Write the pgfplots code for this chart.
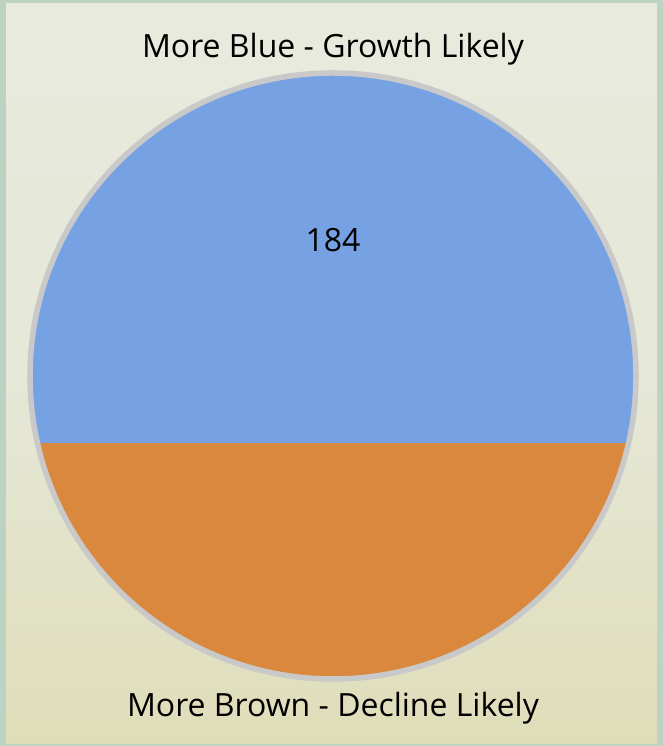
\documentclass[border=0pt]{standalone}
\usepackage{pgfplots}
\pgfplotsset{compat=1.18}
\usepackage{fontspec}
\setmainfont{Open Sans}
\definecolor{bgtop}{HTML}{E7EADD}
\definecolor{bgbot}{HTML}{DFDDB9}
\definecolor{frame}{HTML}{BCD3C4}
\definecolor{blueF}{HTML}{76A2E4}
\definecolor{brownF}{HTML}{D9883E}
\definecolor{ring}{HTML}{C9C9C9}
\begin{document}
\begin{tikzpicture}[x=1pt,y=1pt]
% background panel
\fill[frame] (0,0) rectangle (663,746);
\shade[top color=bgtop, bottom color=bgbot, middle color=bgtop!85!bgbot] (6,2) rectangle (657,742);
\begin{axis}[
  at={(0,0)}, anchor=south west,
  x=1pt, y=1pt,
  xmin=0, xmax=663, ymin=0, ymax=746,
  hide axis, clip=false,
]
% fill level (y of boundary) and displayed value
\begin{scope}
\clip (axis cs:333,370) circle[radius=302];
\addplot[fill=blueF, draw=none] coordinates {(20,303) (650,303) (650,690) (20,690)} -- cycle;
\addplot[fill=brownF, draw=none] coordinates {(20,40) (650,40) (650,303) (20,303)} -- cycle;
\end{scope}
\draw[ring, line width=5.5pt] (axis cs:333,370) circle[radius=303];
\node[font=\fontsize{32}{36}\selectfont] at (axis cs:333,697) {More Blue - Growth Likely};
\node[font=\fontsize{32}{36}\selectfont] at (axis cs:333,506) {184};
\node[font=\fontsize{32}{36}\selectfont] at (axis cs:333,38) {More Brown - Decline Likely};
\end{axis}
\pgfresetboundingbox
\useasboundingbox (0,0) rectangle (663,746);
\end{tikzpicture}
\end{document}
